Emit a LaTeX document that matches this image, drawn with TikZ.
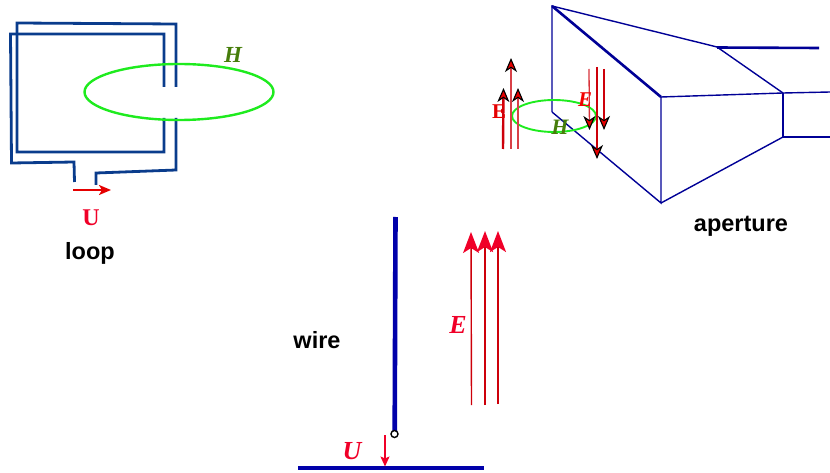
\documentclass[tikz,border=0pt]{standalone}
\usepackage{fontspec}
\setmainfont{Liberation Serif}
\newfontfamily\labelfont{Liberation Sans}
\usetikzlibrary{arrows.meta}
\definecolor{loopblue}{RGB}{10,60,140}
\definecolor{hornblue}{RGB}{0,0,150}
\definecolor{wireblue}{RGB}{0,0,170}
\definecolor{fieldgreen}{RGB}{30,235,30}
\definecolor{hgreen}{RGB}{70,125,10}
\definecolor{lred}{RGB}{240,0,40}
\definecolor{dred}{RGB}{205,0,10}
\tikzset{
  x=1pt,y=-1pt,
  looppath/.style={draw=loopblue,line width=2.8pt,line join=miter},
  fieldloop/.style={draw=fieldgreen},
  horn/.style={draw=hornblue,line width=1.4pt},
  hornthick/.style={draw=hornblue,line width=2.6pt},
  caption/.style={font=\labelfont\bfseries\fontsize{23.5}{26}\selectfont,text=black,inner sep=0pt},
  sym/.style={font=\bfseries\itshape\fontsize{#1}{#1}\selectfont,inner sep=0pt},
  sym/.default=20,
  blackhead/.style={draw=dred,line width=2.4pt,-{Stealth[length=14pt,width=12pt,inset=4pt,color=black,fill=red!90!black,line width=1.1pt]}},
  redhead/.style={draw=dred,-{Stealth[length=21pt,width=16pt,inset=5pt,color=lred]}},
}
\begin{document}
\begin{tikzpicture}
\useasboundingbox (0,0) rectangle (830,473);
% loop
\draw[looppath] (176,87) -- (176,24) -- (17,23) -- (17,152) -- (164,152) -- (164,118);
\draw[looppath] (164,87) -- (164,34) -- (10.5,34) -- (11.5,163) -- (74,162) -- (74.5,182);
\draw[looppath] (176,118) -- (176,170) -- (96,173) -- (96,185);
\draw[fieldloop,line width=2.4pt] (179,92) ellipse [x radius=94.5,y radius=28];
\node[sym=23,text=hgreen] (hloop) at (233,55) {H};
\draw[draw=red!90!black,line width=2pt,-{Stealth[length=12pt,width=10pt,inset=3pt]}] (73,190) -- (111,190);
\node[font=\bfseries\fontsize{24}{24}\selectfont,inner sep=0pt,text=lred] (uloop) at (91,218) {U};
\node[caption] (looplabel) at (90,253) {loop};
% horn
\draw[hornthick] (552,6) -- (661,97);
\draw[horn] (552,112) -- (552,6) -- (717,47);
\draw[horn] (552,112) -- (661,203) -- (661,97) -- (783,93) -- (830,92);
\draw[horn] (717,47) -- (783,93);
\draw[hornthick] (717,47.5) -- (819,48);
\draw[horn] (661,203) -- (783,137);
\draw[hornthick] (783,93) -- (783,137) -- (830,137);
\draw[fieldloop,line width=1.9pt] (554,116) ellipse [x radius=42,y radius=16];
\node[sym=22,text=hgreen] (hhorn) at (560,127) {H};
% field arrows near aperture
\draw[blackhead] (503,149) -- (503.5,88);
\draw[blackhead,draw=dred!75] (511,149) -- (511,58);
\draw[blackhead,draw=dred!75] (518,149) -- (518,88);
\draw[blackhead,draw=dred!80,line width=1.3pt] (589,69) -- (589.5,130);
\draw[blackhead] (597,67) -- (597,159);
\draw[blackhead] (604,69) -- (604,130);
\node[font=\bfseries\fontsize{21}{21}\selectfont,inner sep=0pt,text=red!90!black] (ehornleft) at (499,112) {E};
\node[sym=21,text=red!95!black] (ehornright) at (585,100) {E};
\node[caption] (aperturelabel) at (741,226.5) {aperture};
% wire
\draw[draw=wireblue,line width=4.6pt] (395.5,217) -- (394.7,431);
\node[circle,draw=black,fill=white,line width=1.4pt,minimum size=7pt,inner sep=0pt] (feed) at (394.5,434) {};
\draw[draw=wireblue,line width=4.6pt] (298,468) -- (484,468);
\draw[draw=lred,line width=1.4pt,-{Stealth[length=10pt,width=9pt,inset=2pt]}] (385,435) -- (385,466.5);
\node[sym=26,text=lred] (uwire) at (352,451) {U};
\node[caption] (wirelabel) at (317,340.5) {wire};
\draw[redhead,line width=1.4pt] (471.5,405) -- (471,232);
\draw[redhead,line width=2.8pt] (485,405) -- (485,231);
\draw[redhead,line width=1.8pt] (498,404) -- (498,231);
\node[sym=26,text=lred] (ewire) at (458,325) {E};
\end{tikzpicture}
\end{document}
